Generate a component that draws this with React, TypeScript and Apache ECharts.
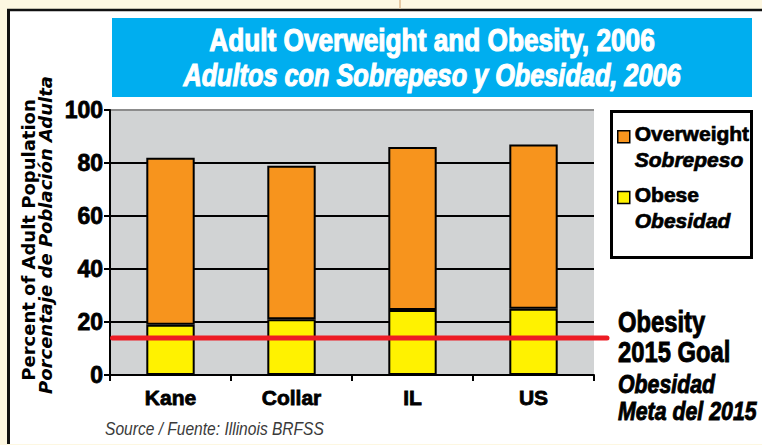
import React, { useEffect, useRef } from 'react';
import * as echarts from 'echarts';

// ---- data ----
const categories = ['Kane', 'Collar', 'IL', 'US'];
const obese = [19, 21, 24.5, 25];
const overweightAboveObese = [63, 58, 61.5, 62];
const seriesNames = ['Overweight', 'Obese'];
const seriesNamesEs = ['Sobrepeso', 'Obesidad'];
const goalValue = 14;
const yMin = 0;
const yMax = 100;
const yInterval = 20;

const titleEn = 'Adult Overweight and Obesity, 2006';
const titleEs = 'Adultos con Sobrepeso y Obesidad, 2006';
const yNameEn = 'Percent of Adult Population';
const yNameEs = 'Porcentaje de Población Adulta';
const goalLines = ['Obesity', '2015 Goal'];
const goalLinesEs = ['Obesidad', 'Meta del 2015'];
const sourceText = 'Source / Fuente: Illinois BRFSS';

const ARIAL = "'Liberation Sans', Arial, sans-serif";
const WIDE = "'DejaVu Sans', 'Liberation Sans', sans-serif";
const NARROW_SCALE = 0.82;

const ORANGE = '#F7941D';
const YELLOW = '#FFF200';
const RED = '#ED1C24';
const BLUE = '#00AEEF';
const GRAY = '#D1D3D4';
const CREAM = '#FDF7E1';

export default function App() {
  const ref = useRef<HTMLDivElement>(null);

  useEffect(() => {
    if (!ref.current) return;
    const chart = echarts.init(ref.current, undefined, { renderer: 'svg' });
    const esByName: Record<string, string> = {};
    seriesNames.forEach((n, i) => (esByName[n] = seriesNamesEs[i]));

    const narrowText = (
      id: string, x: number, y: number, text: string, font: string, align: string,
      fill = '#000', scale = NARROW_SCALE, heavy = 0.9,
    ) => ({
      id,
      type: 'text',
      z: 50,
      x,
      y,
      scaleX: scale,
      style: { text, fill, font, align, verticalAlign: 'middle', stroke: heavy ? fill : undefined, lineWidth: heavy },
    });

    const option: any = {
      animation: false,
      backgroundColor: CREAM,
      grid: {
        left: 110,
        right: 168,
        top: 110,
        bottom: 70,
        show: true,
        backgroundColor: GRAY,
        borderWidth: 0,
      },
      xAxis: {
        type: 'category',
        data: categories,
        axisLine: { lineStyle: { color: '#000', width: 2 } },
        axisTick: { show: true, length: 6, lineStyle: { color: '#000', width: 2 } },
        axisLabel: {
          fontFamily: ARIAL,
          fontWeight: 'bold',
          fontSize: 21,
          color: '#000',
          margin: 12,
          textBorderColor: '#000',
          textBorderWidth: 0.8,
        },
      },
      yAxis: {
        type: 'value',
        min: yMin,
        max: yMax,
        interval: yInterval,
        axisLine: { show: true, lineStyle: { color: '#000', width: 2 } },
        axisTick: { show: true, length: 6, lineStyle: { color: '#000', width: 2 } },
        axisLabel: {
          fontFamily: ARIAL,
          fontWeight: 'bold',
          fontSize: 23,
          color: '#000',
          margin: 7,
          textBorderColor: '#000',
          textBorderWidth: 0.8,
        },
        splitLine: {
          show: true,
          lineStyle: {
            color: ['#000', '#000', '#000', '#000', '#000', '#8c8c8c'],
            width: 2,
          },
        },
      },
      legend: {
        data: seriesNames,
        orient: 'vertical',
        left: 617,
        top: 123,
        padding: 0,
        itemGap: 13,
        itemWidth: 12,
        itemHeight: 32,
        icon: 'path://M0,0L12,0L12,12L0,12Z M0,32',
        selectedMode: false,
        itemStyle: { borderColor: '#000', borderWidth: 1.5 },
        formatter: (name: string) => `{a|${name}}\n{b|${esByName[name]}}`,
        textStyle: {
          fontFamily: ARIAL,
          fontWeight: 'bold',
          fontSize: 21,
          color: '#000',
          textBorderColor: '#000',
          textBorderWidth: 0.7,
          rich: {
            a: {
              fontFamily: ARIAL, fontWeight: 'bold', fontSize: 21, lineHeight: 26, color: '#000',
              textBorderColor: '#000', textBorderWidth: 0.7,
            },
            b: {
              fontFamily: ARIAL,
              fontWeight: 'bold',
              fontStyle: 'italic',
              fontSize: 21,
              lineHeight: 26,
              color: '#000',
              textBorderColor: '#000',
              textBorderWidth: 0.7,
            },
          },
        },
      },
      series: [
        {
          name: seriesNames[1],
          type: 'bar',
          stack: 'total',
          data: obese,
          barWidth: '40%',
          itemStyle: { color: YELLOW, borderColor: '#000', borderWidth: 2 },
        },
        {
          name: seriesNames[0],
          type: 'bar',
          stack: 'total',
          data: overweightAboveObese,
          barWidth: '40%',
          itemStyle: { color: ORANGE, borderColor: '#000', borderWidth: 2 },
        },
      ],
      graphic: [
        { id: 'panel', type: 'rect', z: -10, silent: true, shape: { x: 9, y: 10, width: 760, height: 434 }, style: { fill: '#fff' } },
        { id: 'panelL', type: 'line', z: -9, silent: true, shape: { x1: 8.5, y1: 9, x2: 8.5, y2: 444 }, style: { stroke: '#111', lineWidth: 3 } },
        { id: 'panelT', type: 'line', z: -9, silent: true, shape: { x1: 7, y1: 10, x2: 762, y2: 10 }, style: { stroke: '#111', lineWidth: 2.5 } },
        { id: 'fold', type: 'line', z: -9, silent: true, shape: { x1: 400, y1: 0, x2: 400, y2: 8.5 }, style: { stroke: '#E6C9A4', lineWidth: 2 } },
        { id: 'titleBox', type: 'rect', z: -8, silent: true, shape: { x: 112, y: 18, width: 640, height: 79 }, style: { fill: BLUE } },
        narrowText('title1', 432, 40.5, titleEn, `bold 32px ${ARIAL}`, 'center', '#fff', NARROW_SCALE, 1.2),
        narrowText('title2', 432, 75, titleEs, `italic bold 32px ${ARIAL}`, 'center', '#fff', 0.79, 1.2),
        {
          id: 'yname1', type: 'text', z: 50, x: 28.5, y: 240, rotation: Math.PI / 2,
          style: { text: yNameEn, fill: '#000', font: `bold 18px ${WIDE}`, align: 'center', verticalAlign: 'middle' },
        },
        {
          id: 'yname2', type: 'text', z: 50, x: 45, y: 235, rotation: Math.PI / 2,
          style: { text: yNameEs, fill: '#000', font: `italic bold 18px ${WIDE}`, align: 'center', verticalAlign: 'middle' },
        },
        {
          id: 'legendBox', type: 'rect', z: 40, silent: true,
          shape: { x: 611.5, y: 111.5, width: 140, height: 146 },
          style: { fill: 'none', stroke: '#000', lineWidth: 3 },
        },
        narrowText('goal1', 618, 322, goalLines[0], `bold 29px ${ARIAL}`, 'left'),
        narrowText('goal2', 618, 352, goalLines[1], `bold 29px ${ARIAL}`, 'left'),
        narrowText('goal3', 618, 384, goalLinesEs[0], `italic bold 26px ${ARIAL}`, 'left'),
        narrowText('goal4', 618, 411, goalLinesEs[1], `italic bold 26px ${ARIAL}`, 'left'),
        narrowText('source', 105, 428, sourceText, `italic 19px ${ARIAL}`, 'left', '#3a3a3a', NARROW_SCALE, 0),
      ],
    };

    chart.setOption(option);

    const goalY = chart.convertToPixel({ yAxisIndex: 0 }, goalValue) as number;
    chart.setOption({
      graphic: [
        {
          id: 'goalLine', type: 'line', z: 60, silent: true,
          shape: { x1: 112.5, y1: goalY, x2: 607, y2: goalY },
          style: { stroke: RED, lineWidth: 5, lineCap: 'round' },
        },
      ],
    });

    return () => chart.dispose();
  }, []);

  return <div ref={ref} style={{ position: 'fixed', left: 0, top: 0, width: 762, height: 445 }} />;
}
